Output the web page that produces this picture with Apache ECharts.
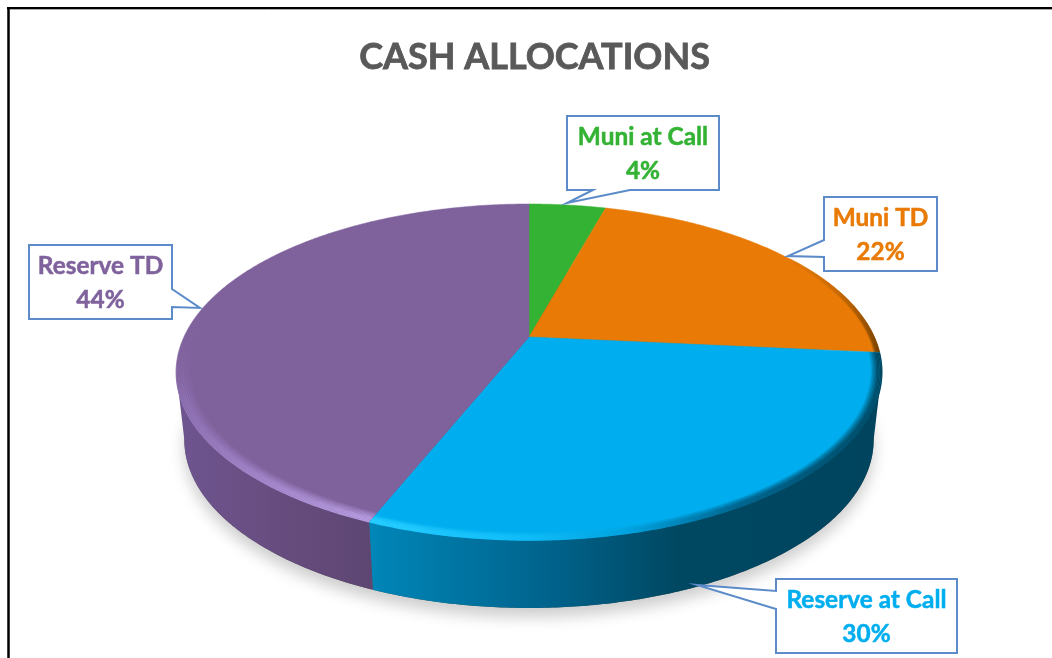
<!DOCTYPE html>
<html>
<head>
<meta charset="utf-8">
<style>
  html, body { margin: 0; padding: 0; background: #fff; }
  #chart { width: 1052px; height: 658px; }
</style>
<script src="https://cdn.jsdelivr.net/npm/echarts@6/dist/echarts.min.js"></script>
</head>
<body>
<div id="chart"></div>
<script>
const categories = ['Muni at Call', 'Muni TD', 'Reserve at Call', 'Reserve TD']
// labels print these rounded; slice edges in the picture sit slightly off the whole numbers
const values = [4.3, 22.2, 29.6, 43.9]
const titleText = 'CASH ALLOCATIONS'

const colors = ['#33B233', '#E97A05', '#00AEEF', '#7F619C']

// callout box + pointer, pixels: [x0, y0, x1, y1, pointer polygon]
const callouts = [
  { box: [567, 116, 719, 190], tip: [[593, 190], [567, 203], [630, 190]] },
  { box: [824, 197, 937, 271], tip: [[824, 240], [788, 256], [824, 257]] },
  { box: [776, 579, 957, 653], tip: [[776, 591], [697, 585], [776, 609]] },
  { box: [29, 245, 172, 319], tip: [[172, 289], [200, 308], [172, 307]] }
]

// the pie is a flat disc seen in perspective, so the hub sits above the ellipse centre
const cx = 529
const hubY = 337
const persp = -0.2083
const scaleY = 90.5
const scaleX = 345
const depth = 68
const baseShrink = 0.977

const project = (theta, r) => {
  const u = Math.sin(theta) * r
  const v = -Math.cos(theta) * r
  const d = 1 + persp * v
  return [cx + scaleX * u / d, (scaleY * v + hubY) / d]
}
const lower = (p) => [cx + (p[0] - cx) * baseShrink, p[1] + depth]

const arcPoints = (a0, a1, r) => {
  const n = Math.max(2, Math.ceil((a1 - a0) / 0.01))
  const pts = []
  for (let i = 0; i <= n; i++) pts.push(project(a0 + (a1 - a0) * i / n, r))
  return pts
}

const grad = (x, y, x2, y2, stops) => ({
  type: 'linear', x: x, y: y, x2: x2, y2: y2, global: true,
  colorStops: stops.map((s) => ({ offset: s[0], color: s[1] }))
})

const sideFill = [
  null,
  null,
  grad(372, 0, 880, 0, [[0, '#0086B8'], [0.35, '#00638C'], [0.6, '#004862'], [1, '#00445E']]),
  grad(176, 0, 372, 0, [[0, '#6F5590'], [0.5, '#674D7F'], [1, '#5E4673']])
]
const bevelStroke = [
  null,
  grad(770, 260, 880, 350, [[0, 'rgba(233,122,5,0)'], [0.5, '#C96A05'], [1, '#7A4300']]),
  grad(372, 0, 882, 0, [[0, '#25CCFF'], [0.3, '#10BDF8'], [0.5, '#00A2DF'], [0.72, '#00648E'], [1, '#004862']]),
  grad(176, 330, 372, 520, [[0, 'rgba(127,97,156,0)'], [0.2, '#8F72B4'], [0.55, '#A184C9'], [1, '#B59BDF']])
]
// how far in from the edge the soft bevel reaches, per slice
const bevelReach = [0, 0.985, 0.972, 0.962]
const bevelFrom = 1.0
const bevelTo = 4.95
// the rim's outline leaves the top face where the ellipse is widest
const rimFrom = Math.acos(persp)
const rimTo = Math.PI * 2 - rimFrom

const total = values.reduce((a, b) => a + b, 0)
let running = 0
const sliceData = values.map((v) => {
  const start = running / total * Math.PI * 2
  running += v
  return [start, running / total * Math.PI * 2, v]
})

const renderSlice = (params, api) => {
  const i = params.dataIndex
  const a0 = api.value(0)
  const a1 = api.value(1)
  const children = []

  // rim
  const s0 = Math.max(a0, rimFrom)
  const s1 = Math.min(a1, rimTo)
  if (sideFill[i] && s1 > s0) {
    const top = arcPoints(s0, s1, 1)
    const bottom = top.map(lower).reverse()
    children.push({
      type: 'polygon',
      shape: { points: top.concat(bottom) },
      style: { fill: sideFill[i] }
    })
  }

  // top face
  children.push({
    type: 'polygon',
    shape: { points: [project(0, 0)].concat(arcPoints(a0, a1, 1)) },
    style: { fill: colors[i], stroke: colors[i], lineWidth: 0.5 }
  })

  // soft bevel along the near edge
  const b0 = Math.max(a0, bevelFrom)
  const b1 = Math.min(a1, bevelTo)
  if (bevelStroke[i] && b1 > b0) {
    const n = 8
    for (let k = 0; k <= n; k++) {
      children.push({
        type: 'polyline',
        shape: { points: arcPoints(b0, b1, bevelReach[i] + (1 - bevelReach[i]) * k / n) },
        style: { fill: null, stroke: bevelStroke[i], lineWidth: 1.5, opacity: Math.min(1, (k + 1) / 6) }
      })
    }
  }
  return { type: 'group', children: children }
}

const renderShadow = () => ({
  type: 'polygon',
  shape: { points: arcPoints(0, Math.PI * 2, 1).map(lower) },
  style: {
    fill: '#5a5a5a',
    shadowBlur: 15,
    shadowColor: 'rgba(0,0,0,0.2)',
    shadowOffsetY: 9
  }
})

const renderCallout = (params, api) => {
  const c = callouts[params.dataIndex]
  const b = c.box
  const col = colors[params.dataIndex]
  // walk the outline once so pointer and box read as one shape
  const side = c.tip[0][1] === b[3] ? 'bottom' : c.tip[0][0] === b[2] ? 'right' : 'left'
  let pts
  if (side === 'bottom') {
    pts = [[b[0], b[1]], [b[2], b[1]], [b[2], b[3]], c.tip[2], c.tip[1], c.tip[0], [b[0], b[3]]]
  } else if (side === 'right') {
    pts = [[b[0], b[1]], [b[2], b[1]], c.tip[0], c.tip[1], c.tip[2], [b[2], b[3]], [b[0], b[3]]]
  } else {
    pts = [[b[0], b[1]], [b[2], b[1]], [b[2], b[3]], [b[0], b[3]], c.tip[2], c.tip[1], c.tip[0]]
  }
  return {
    type: 'group',
    children: [
      {
        type: 'polygon',
        shape: { points: pts },
        style: { fill: '#fff', stroke: '#5B8BC9', lineWidth: 2, lineJoin: 'miter' }
      },
      {
        type: 'text',
        style: {
          x: (b[0] + b[2]) / 2,
          y: (b[1] + b[3]) / 2 + 1,
          text: categories[params.dataIndex] + '\n' + Math.round(api.value(0)) + '%',
          fill: col,
          stroke: col,
          lineWidth: 0.5,
          font: 'bold 24.4px Lato, "Open Sans", sans-serif',
          lineHeight: 34,
          align: 'center',
          verticalAlign: 'middle'
        }
      }
    ]
  }
}

const chart = echarts.init(document.getElementById('chart'), null, { renderer: 'canvas' })
chart.setOption({
  animation: false,
  backgroundColor: '#fff',
  title: {
    text: titleText,
    left: 529.5,
    top: 34,
    textAlign: 'center',
    textStyle: {
      color: '#595959',
      fontFamily: 'Lato, "Open Sans", sans-serif',
      fontWeight: 'bold',
      fontSize: 36,
      textBorderColor: '#595959',
      textBorderWidth: 0.8
    }
  },
  graphic: [
    { type: 'line', shape: { x1: 7, y1: 9.5, x2: 1052, y2: 9.5 }, style: { stroke: '#aaa', lineWidth: 1 } },
    { type: 'line', shape: { x1: 7, y1: 8, x2: 1052, y2: 8 }, style: { stroke: '#000', lineWidth: 2 } },
    { type: 'line', shape: { x1: 8.5, y1: 7, x2: 8.5, y2: 658 }, style: { stroke: '#000', lineWidth: 2.5 } }
  ],
  series: [
    { type: 'custom', coordinateSystem: 'none', silent: true, z: 1, data: [[0]], renderItem: renderShadow },
    { type: 'custom', coordinateSystem: 'none', silent: true, z: 2, data: sliceData, renderItem: renderSlice },
    { type: 'custom', coordinateSystem: 'none', silent: true, z: 3, data: values.map((v) => [v]), renderItem: renderCallout }
  ]
})
</script>
</body>
</html>
